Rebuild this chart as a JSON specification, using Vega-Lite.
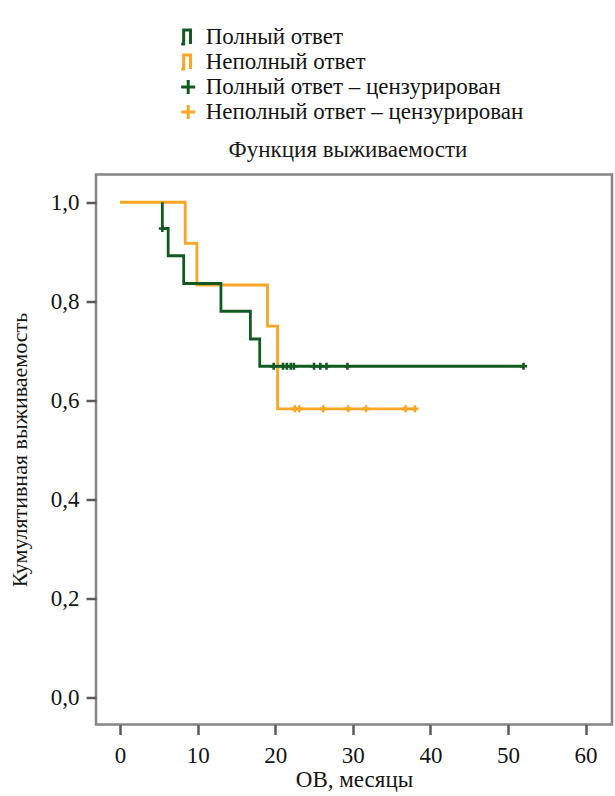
{
  "$schema": "https://vega.github.io/schema/vega-lite/v6.json",
  "width": 516,
  "height": 550,
  "autosize": {"type": "none"},
  "padding": {"left": 96, "top": 174.5, "right": 3, "bottom": 71.5},
  "background": "white",
  "title": {
    "text": "Функция выживаемости",
    "font": "Liberation Serif",
    "fontSize": 23,
    "fontWeight": "normal",
    "color": "#1a1a1a",
    "offset": -136,
    "dx": -6
  },
  "config": {
    "font": "Liberation Serif",
    "view": {"stroke": "#858585", "strokeWidth": 2.5}
  },
  "data": {
    "values": [
      {"series": "Неполный ответ", "t": 0, "s": 1.0},
      {"series": "Неполный ответ", "t": 8.4, "s": 0.917},
      {"series": "Неполный ответ", "t": 9.9, "s": 0.833},
      {"series": "Неполный ответ", "t": 19.0, "s": 0.75},
      {"series": "Неполный ответ", "t": 20.3, "s": 0.583},
      {"series": "Неполный ответ", "t": 38.0, "s": 0.583},

      {"series": "Полный ответ", "t": 5.45, "s": 1.0},
      {"series": "Полный ответ", "t": 5.45, "s": 0.947},
      {"series": "Полный ответ", "t": 6.2, "s": 0.892},
      {"series": "Полный ответ", "t": 8.2, "s": 0.836},
      {"series": "Полный ответ", "t": 13.0, "s": 0.78},
      {"series": "Полный ответ", "t": 16.8, "s": 0.724},
      {"series": "Полный ответ", "t": 18.0, "s": 0.669},
      {"series": "Полный ответ", "t": 52.0, "s": 0.669},

      {"series": "Полный ответ – цензурирован", "t": 5.45, "s": 0.947},
      {"series": "Полный ответ – цензурирован", "t": 19.8, "s": 0.669},
      {"series": "Полный ответ – цензурирован", "t": 21.0, "s": 0.669},
      {"series": "Полный ответ – цензурирован", "t": 21.5, "s": 0.669},
      {"series": "Полный ответ – цензурирован", "t": 22.0, "s": 0.669},
      {"series": "Полный ответ – цензурирован", "t": 22.4, "s": 0.669},
      {"series": "Полный ответ – цензурирован", "t": 25.0, "s": 0.669},
      {"series": "Полный ответ – цензурирован", "t": 25.8, "s": 0.669},
      {"series": "Полный ответ – цензурирован", "t": 26.6, "s": 0.669},
      {"series": "Полный ответ – цензурирован", "t": 29.3, "s": 0.669},
      {"series": "Полный ответ – цензурирован", "t": 52.0, "s": 0.669},

      {"series": "Неполный ответ – цензурирован", "t": 22.5, "s": 0.583},
      {"series": "Неполный ответ – цензурирован", "t": 23.1, "s": 0.583},
      {"series": "Неполный ответ – цензурирован", "t": 26.2, "s": 0.583},
      {"series": "Неполный ответ – цензурирован", "t": 29.4, "s": 0.583},
      {"series": "Неполный ответ – цензурирован", "t": 31.7, "s": 0.583},
      {"series": "Неполный ответ – цензурирован", "t": 36.8, "s": 0.583},
      {"series": "Неполный ответ – цензурирован", "t": 38.0, "s": 0.583}
    ]
  },
  "encoding": {
    "x": {
      "field": "t",
      "type": "quantitative",
      "scale": {"domain": [-3.1, 63.4], "nice": false, "zero": false},
      "axis": {
        "title": "ОВ, месяцы",
        "values": [0, 10, 20, 30, 40, 50, 60],
        "grid": false,
        "domain": false,
        "tickSize": 10,
        "tickWidth": 2.5,
        "tickColor": "#5a5a5a",
        "labelFont": "Liberation Serif",
        "labelFontSize": 23,
        "labelColor": "#141414",
        "labelPadding": 10,
        "titleFont": "Liberation Serif",
        "titleFontSize": 23,
        "titleFontWeight": "normal",
        "titleColor": "#141414",
        "titlePadding": 1
      }
    },
    "y": {
      "field": "s",
      "type": "quantitative",
      "scale": {"domain": [-0.054, 1.056], "nice": false, "zero": false},
      "axis": {
        "title": "Кумулятивная выживаемость",
        "values": [0, 0.2, 0.4, 0.6, 0.8, 1.0],
        "labelExpr": "replace(format(datum.value, '.1f'), '.', ',')",
        "grid": false,
        "domain": false,
        "tickSize": 10,
        "tickWidth": 2.5,
        "tickColor": "#5a5a5a",
        "labelFont": "Liberation Serif",
        "labelFontSize": 23,
        "labelColor": "#141414",
        "labelPadding": 7,
        "titleFont": "Liberation Serif",
        "titleFontSize": 22,
        "titleFontWeight": "normal",
        "titleColor": "#141414",
        "titlePadding": 19
      }
    },
    "color": {
      "field": "series",
      "type": "nominal",
      "scale": {
        "domain": ["Полный ответ", "Неполный ответ", "Полный ответ – цензурирован", "Неполный ответ – цензурирован"],
        "range": ["#125a1f", "#f9a623", "#125a1f", "#f9a623"]
      },
      "legend": {
        "title": null,
        "orient": "none",
        "legendX": 80.7,
        "legendY": -149,
        "labelFont": "Liberation Serif",
        "labelFontSize": 23,
        "labelColor": "#141414",
        "labelLimit": 500,
        "labelOffset": 6,
        "symbolSize": 196,
        "symbolStrokeWidth": 3,
        "rowPadding": -5.5,
        "symbolFillColor": "transparent"
      }
    }
  },
  "layer": [
    {
      "transform": [{"filter": "datum.series === 'Неполный ответ'"}],
      "mark": {"type": "line", "interpolate": "step-after", "strokeWidth": 2.8}
    },
    {
      "transform": [{"filter": "datum.series === 'Полный ответ'"}],
      "mark": {"type": "line", "interpolate": "step-after", "strokeWidth": 2.8}
    },
    {
      "transform": [{"filter": "indexof(datum.series, 'цензурирован') >= 0"}],
      "mark": {"type": "point", "filled": false, "strokeWidth": 2.6, "size": 49, "opacity": 1},
      "encoding": {
        "shape": {
          "field": "series",
          "type": "nominal",
          "scale": {
            "domain": ["Полный ответ", "Неполный ответ", "Полный ответ – цензурирован", "Неполный ответ – цензурирован"],
            "range": ["M-1,1H-0.65V-1H0.33V1", "M-1,1H-0.65V-1H0.33V1", "M-1,0H1M0,-1V1", "M-1,0H1M0,-1V1"]
          },
          "legend": {
            "title": null,
            "orient": "none",
            "legendX": 80.7,
            "legendY": -149
          }
        }
      }
    }
  ]
}
